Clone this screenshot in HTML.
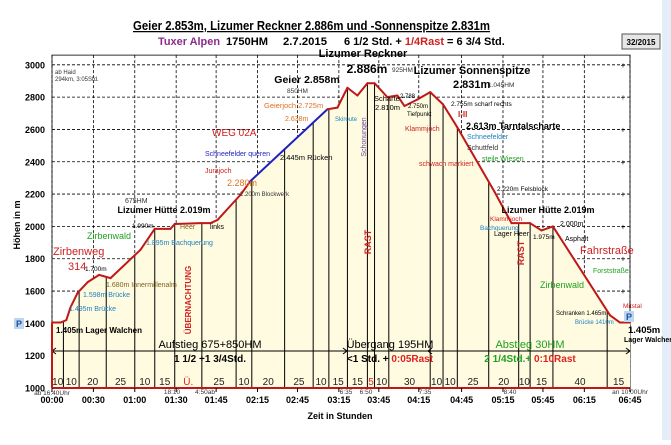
<!DOCTYPE html>
<html><head><meta charset="utf-8">
<style>
body{margin:0;background:#fff;width:671px;height:440px;overflow:hidden;font-family:"Liberation Sans",sans-serif}
svg text{font-family:"Liberation Sans",sans-serif}
</style></head>
<body>
<svg id="chart" width="671" height="440" viewBox="0 0 671 440" xmlns="http://www.w3.org/2000/svg">
<rect x="662" y="0" width="9" height="440" fill="#e3eef8"/>
<text x="133" y="30" font-size="12.5" font-weight="bold" textLength="357" lengthAdjust="spacingAndGlyphs" text-decoration="underline">Geier 2.853m, Lizumer Reckner 2.886m und -Sonnenspitze 2.831m</text>
<g font-size="11" font-weight="bold">
<text x="158" y="45" fill="#8b2c8b" textLength="62" lengthAdjust="spacingAndGlyphs">Tuxer Alpen</text>
<text x="226" y="45" textLength="42" lengthAdjust="spacingAndGlyphs">1750HM</text>
<text x="283" y="45" textLength="44" lengthAdjust="spacingAndGlyphs">2.7.2015</text>
<text x="344" y="45">6 1/2 Std. + <tspan fill="#d02020">1/4Rast</tspan> = 6 3/4 Std.</text>
</g>
<rect x="622" y="34" width="38" height="15" fill="#e6e6e6" stroke="#555"/>
<text x="641" y="45" font-size="8" font-weight="bold" text-anchor="middle">32/2015</text>
<g id="grid"></g>
<g id="profile"></g>
<g id="annot"></g>
<g id="axes"></g>
</svg>
<script>
const timeMin=[0,6,10,13,18,25,33,41,62,72,83,86,104,111,116,132,139,193,200,207,214,221,226,235,242,247,256,265,274,284,310,322,335,343,351,391,398,405];
const elevM=[1405,1405,1420,1500,1590,1655,1700,1680,1855,1985,1985,2015,2020,2020,2040,2195,2280,2725,2735,2858,2810,2886,2886,2800,2810,2745,2785,2831,2755,2613,2215,2020,2020,1975,2000,1450,1405,1405];
const yTicks=[1000,1200,1400,1600,1800,2000,2200,2400,2600,2800,3000];
const xTickLabels=["00:00","00:30","01:00","01:30","01:45","02:15","02:45","03:15","03:45","04:15","04:45","05:15","05:45","06:15","06:45"];
const xTickMin=[0,29,58,87,115,144,172,201,229,257,287,316,344,373,405];
const segBounds=[0,8,19,38,58,72,86,105,129,140,163,183,194,207,221,226,236,265,274,284,306,327,335,351,389,405];
const segLabels=["10","10","20","25","10","15","Ü.","25","10","20","25","10","15","15","5","10","30","10","10","25","20","10","15","40","15"];
const blueFrom=16, blueTo=17;

const NS="http://www.w3.org/2000/svg";
const X=m=>52+m*578/405;
const Y=e=>388-(e-1000)*0.1616;
function mk(tag,attrs,parent,txt){const el=document.createElementNS(NS,tag);for(const k in attrs)el.setAttribute(k,attrs[k]);if(txt!==undefined)el.textContent=txt;parent.appendChild(el);return el;}
function elevAt(m){for(let i=1;i<timeMin.length;i++){if(m<=timeMin[i]){const t=(m-timeMin[i-1])/(timeMin[i]-timeMin[i-1]||1);return elevM[i-1]+t*(elevM[i]-elevM[i-1]);}}return elevM[elevM.length-1];}
const grid=document.getElementById('grid'),prof=document.getElementById('profile'),ax=document.getElementById('axes');
const TOP=3060;

let d="M"+X(0)+","+Y(1000);
timeMin.forEach((t,i)=>{d+=" L"+X(t)+","+Y(elevM[i]);});
d+=" L"+X(405)+","+Y(1000)+" Z";
const area=mk('path',{d:d,fill:'#fefbe0',stroke:'none'},prof);



yTicks.forEach(v=>{
  const l=mk('line',{x1:52,x2:630,y1:Y(v),y2:Y(v),stroke:'#000','stroke-width':0.8,'stroke-dasharray':'3,2'},grid);
  
  
  if(v>1000){const p=mk('text',{x:623,y:Y(v)+3,'font-size':8,'text-anchor':'middle'},grid,'+');
  
  }
});
xTickMin.forEach((m,i)=>{
  const l=mk('line',{x1:X(m),x2:X(m),y1:Y(TOP),y2:Y(1000),stroke:'#000','stroke-width':0.8,'stroke-dasharray':'3,2'},grid);
  
  
});
const fr=mk('rect',{x:52,y:Y(TOP),width:578,height:Y(1000)-Y(TOP),fill:'none',stroke:'#000','stroke-width':0.8},grid);



segBounds.forEach((m,i)=>{
  if(i>0&&i<segBounds.length-1){
    const l=mk('line',{x1:X(m),x2:X(m),y1:Y(elevAt(m)),y2:Y(1000),stroke:'#000','stroke-width':1},prof);
    
    
  }
});
segLabels.forEach((s,i)=>{
  const cx=(X(segBounds[i])+X(segBounds[i+1]))/2;
  const red=(s==="Ü."||s==="5");
  const t=mk('text',{x:cx,y:385,'font-size':10,'text-anchor':'middle',fill:red?'#e02020':'#222'},prof,s);
  
  
});

for(let i=1;i<timeMin.length;i++){
  const blue=(i-1>=blueFrom&&i<=blueTo);
  const l=mk('line',{x1:X(timeMin[i-1]),y1:Y(elevM[i-1]),x2:X(timeMin[i]),y2:Y(elevM[i]),stroke:blue?'#2020c0':'#c01818','stroke-width':2,'stroke-linecap':'round'},prof);
  
  
}

const ya=mk('line',{x1:52,x2:52,y1:Y(1400),y2:Y(1000),stroke:'#c01818','stroke-width':2},ax);

const xa=mk('line',{x1:52,x2:630,y1:Y(1000),y2:Y(1000),stroke:'#c01818','stroke-width':2},ax);

yTicks.forEach(v=>{
  const t=mk('text',{x:45,y:Y(v)+3.5,'font-size':9,'font-weight':'bold','text-anchor':'end'},ax,v);
  
  
});
xTickLabels.forEach((s,i)=>{
  const t=mk('text',{x:X(xTickMin[i]),y:403,'font-size':9,'font-weight':'bold','text-anchor':'middle'},ax,s);
  
  
  mk('line',{x1:X(xTickMin[i]),x2:X(xTickMin[i]),y1:388,y2:392,stroke:'#000'},ax);
});
</script>
<script>
const A=document.getElementById('annot');
const notes=[
["ab Haid",55,74,6,"#333","normal","start"],["294km, 3:05Std.",55,81,6,"#333","normal","start"],
["Zeit in Stunden",340,419,9,"#000","bold","middle"],
["ab 16:40Uhr",52,395,6.5,"#333","normal","middle"],["18:10",172,394,6.5,"#333","normal","middle"],["4:50ab",205,394,6.5,"#333","normal","middle"],
["6:35",346,394,6.5,"#333","normal","middle"],["6:50",366,394,6.5,"#333","normal","middle"],["7:35",425,394,6.5,"#333","normal","middle"],
["8:40",510,394,6.5,"#333","normal","middle"],["an 10:00Uhr",630,394,6.5,"#333","normal","middle"],
["Lizumer Reckner",363,57,11,"#000","bold","middle"],["2.886m",367,73,12,"#000","bold","middle"],["925HM",392,72,6.5,"#333","normal","start"],
["Geier 2.858m",307,83,10.5,"#000","bold","middle"],["850HM",287,93,6.5,"#333","normal","start"],
["Lizumer Sonnenspitze",472,74,11,"#000","bold","middle"],["2.831m",453,88,11,"#000","bold","start"],["1.045HM",488,87,6.5,"#333","normal","start"],
["Geierjoch 2.725m",264,108,7.5,"#e07020","normal","start"],["2.638m",285,121,7,"#e07020","normal","start"],["Skiroute",335,121,6,"#2080c0","normal","start"],
["Scharte",374,101,7.5,"#000","normal","start"],["2.810m",375,110,7.5,"#000","normal","start"],["2.788",400,98,6,"#000","normal","start"],
["2.750m",408,108,6,"#000","normal","start"],["Tiefpunkt",407,116,6,"#000","normal","start"],["Klammjoch",405,131,7,"#d02020","normal","start"],
["2.755m scharf rechts",451,106,6.5,"#000","normal","start"],["I-II",458,117,8,"#d02020","bold","start"],
["2.613m Tarntalscharte",466,129,9,"#000","bold","start"],["Schneefelder",467,139,7,"#2080c0","normal","start"],["Schuttfeld",467,150,7,"#333","normal","start"],
["steile Wiesen",482,161,7,"#20a020","normal","start"],["schwach markiert",419,166,7,"#d02020","normal","start"],["2.220m Felsblock",497,191,6.5,"#000","normal","start"],
["WEG 02A",212,136,10,"#d02020","normal","start"],["Schneefelder queren",205,156,7,"#2020c0","normal","start"],["2.445m Rücken",280,160,7.5,"#000","normal","start"],
["Jurajoch",205,173,7,"#d02020","normal","start"],["2.280m",227,186,9,"#e07020","normal","start"],["2.200m Blockwerk",240,196,6,"#333","normal","start"],
["675HM",125,203,7,"#333","normal","start"],["Lizumer Hütte 2.019m",164,213,9,"#000","bold","middle"],["1.990m",132,228,6.5,"#000","normal","start"],
["Heer",180,229,7,"#806020","normal","start"],["links",210,229,7,"#000","normal","start"],
["Zirbenwald",87,239,9,"#20a020","normal","start"],["1.895m Bachquerung",146,245,7,"#2080c0","normal","start"],
["Zirbenweg",53,255,11,"#d02020","normal","start"],["314",68,270,11,"#d02020","normal","start"],["1.700m",85,271,6.5,"#000","normal","start"],
["1.680m Innermillenalm",106,287,7,"#806020","normal","start"],["1.598m Brücke",83,297,7,"#2080c0","normal","start"],
["1.495m Brücke",69,311,7,"#2080c0","normal","start"],["1.405m Lager Walchen",56,333,8,"#000","bold","start"],
["ÜBERNACHTUNG",191,300,8,"#d02020","bold","middle","r"],["Schonungen",366,137,7,"#7040a0","normal","middle","r"],
["RAST",371,242,9,"#d02020","bold","middle","r"],["RAST",524,253,9,"#d02020","bold","middle","r"],
["Lizumer Hütte 2.019m",548,213,9,"#000","bold","middle"],["Klammjoch",490,221,6.5,"#d02020","normal","start"],["Bachquerung",480,230,6.5,"#2080c0","normal","start"],
["Lager Heer",494,236,7,"#000","normal","start"],["1.975m",533,239,6.5,"#000","normal","start"],["2.000m",560,226,7,"#000","normal","start"],
["Asphalt",565,241,7,"#000","normal","start"],["Fahrstraße",580,254,11,"#d02020","normal","start"],["Forststraße",593,273,7,"#20a020","normal","start"],
["Zirbenwald",540,288,9,"#20a020","normal","start"],["Schranken 1.465m",556,315,6,"#000","normal","start"],["Brücke 1410m",575,324,6,"#2080c0","normal","start"],
["Mitstal",623,308,6.5,"#d02020","normal","start"],["1.405m",628,333,9.5,"#000","bold","start"],["Lager Walchen",624,342,7,"#000","bold","start"],
["Aufstieg 675+850HM",210,348,11,"#000","normal","middle"],["1 1/2 +1 3/4Std.",210,362,10,"#000","bold","middle"],
["Übergang 195HM",390,348,11,"#000","normal","middle"],["Abstieg 30HM",530,348,11,"#20a020","normal","middle"]
];
notes.forEach(n=>{
  const a={x:n[1],y:n[2],'font-size':n[3],fill:n[4],'font-weight':n[5],'text-anchor':n[6]};
  if(n[7])a.transform="rotate(-90 "+n[1]+" "+n[2]+")";
  const t=document.createElementNS("http://www.w3.org/2000/svg",'text');
  for(const k in a)t.setAttribute(k,a[k]);
  t.textContent=n[0];
  
  
  A.appendChild(t);
});
function rich(x,y,parts,anchor){const t=document.createElementNS("http://www.w3.org/2000/svg",'text');t.setAttribute('x',x);t.setAttribute('y',y);t.setAttribute('font-size',10);t.setAttribute('font-weight','bold');t.setAttribute('text-anchor',anchor);
parts.forEach(p=>{const s=document.createElementNS("http://www.w3.org/2000/svg",'tspan');s.setAttribute('fill',p[1]);s.textContent=p[0];t.appendChild(s);});


A.appendChild(t);}
rich(390,362,[["<1 Std. + ","#000"],["0:05Rast","#e02020"]],"middle");
rich(530,362,[["2 1/4Std.+ ","#20a020"],["0:10Rast","#e02020"]],"middle");
const ar=document.createElementNS("http://www.w3.org/2000/svg",'path');
ar.setAttribute('d','M52,351 L630,351 M56,348 L52,351 L56,354 M626,348 L630,351 L626,354 M343,348 L347,351 L343,354 M432,348 L428,351 L432,354');
ar.setAttribute('stroke','#000');ar.setAttribute('fill','none');


A.appendChild(ar);
const yl=document.createElementNS("http://www.w3.org/2000/svg",'text');
yl.setAttribute('x',20);yl.setAttribute('y',225);yl.setAttribute('font-size',9);yl.setAttribute('font-weight','bold');yl.setAttribute('text-anchor','middle');yl.setAttribute('transform','rotate(-90 20 225)');yl.textContent="Höhen in m";


A.appendChild(yl);
[[14,318],[624,311]].forEach(p=>{
  const r=document.createElementNS("http://www.w3.org/2000/svg",'rect');
  r.setAttribute('x',p[0]);r.setAttribute('y',p[1]);r.setAttribute('width',10);r.setAttribute('height',11);r.setAttribute('fill','#bcd8f0');
  
  
  A.appendChild(r);
  const t=document.createElementNS("http://www.w3.org/2000/svg",'text');
  t.setAttribute('x',p[0]+5);t.setAttribute('y',p[1]+9);t.setAttribute('font-size',9);t.setAttribute('font-weight','bold');t.setAttribute('fill','#2050a0');t.setAttribute('text-anchor','middle');t.textContent="P";
  
  
  A.appendChild(t);
});
</script>
</body></html>
